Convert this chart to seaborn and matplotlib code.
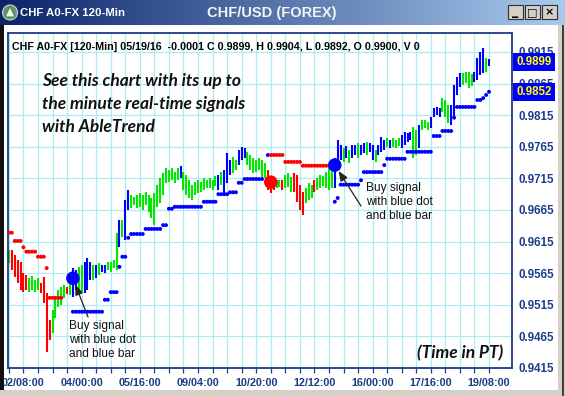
import numpy as np
import pandas as pd
import matplotlib
matplotlib.use("Agg")
import matplotlib.pyplot as plt
import matplotlib.transforms as mtransforms
from matplotlib.patches import Rectangle, Circle, Polygon
import seaborn as sns

# ---------------- data ----------------
bar_colors = ("grrrrrrggg" "grrrrggggg" "rgbbggbbbg" "bgbbggggbg" "bbgggggggg"
              "gggggggggb" "gggggggggg" "ggbgbbbggb" "bbgggggggr" "rrggrgggrr"
              "rrgggrgggg" "ggbbbgbgbb" "gbbgbbgbbb" "gbgggbbbbg" "gbgggbbbbg"
              "ggbbbbgggg" "bbbbgb")

highs = [0.9602, 0.9602, 0.9594, 0.9586, 0.9583, 0.9565, 0.9562, 0.9557, 0.9561, 0.9554,
         0.9557, 0.9549, 0.9559, 0.9534, 0.9491, 0.9507, 0.9526, 0.9538, 0.9543, 0.9546,
         0.9543, 0.9551, 0.9573, 0.9570, 0.9575, 0.9578, 0.9583, 0.9589, 0.9583, 0.9578,
         0.9578, 0.9581, 0.9578, 0.9578, 0.9583, 0.9583, 0.9586, 0.9629, 0.9649, 0.9649,
         0.9681, 0.9697, 0.9689, 0.9686, 0.9689, 0.9692, 0.9689, 0.9693, 0.9689, 0.9684,
         0.9692, 0.9705, 0.9716, 0.9723, 0.9731, 0.9728, 0.9731, 0.9725, 0.9731, 0.9735,
         0.9725, 0.9720, 0.9712, 0.9705, 0.9709, 0.9712, 0.9709, 0.9716, 0.9712, 0.9716,
         0.9712, 0.9719, 0.9720, 0.9725, 0.9728, 0.9755, 0.9744, 0.9749, 0.9744, 0.9760,
         0.9765, 0.9763, 0.9757, 0.9752, 0.9747, 0.9744, 0.9747, 0.9744, 0.9739, 0.9728,
         0.9717, 0.9716, 0.9712, 0.9712, 0.9712, 0.9720, 0.9723, 0.9717, 0.9723, 0.9720,
         0.9705, 0.9693, 0.9700, 0.9708, 0.9705, 0.9712, 0.9716, 0.9720, 0.9719, 0.9725,
         0.9731, 0.9736, 0.9747, 0.9776, 0.9768, 0.9763, 0.9766, 0.9760, 0.9768, 0.9768,
         0.9771, 0.9768, 0.9771, 0.9773, 0.9771, 0.9768, 0.9760, 0.9768, 0.9780, 0.9776,
         0.9779, 0.9776, 0.9779, 0.9776, 0.9779, 0.9784, 0.9788, 0.9787, 0.9788, 0.9796,
         0.9792, 0.9799, 0.9807, 0.9807, 0.9804, 0.9812, 0.9826, 0.9828, 0.9826, 0.9842,
         0.9839, 0.9831, 0.9831, 0.9863, 0.9875, 0.9882, 0.9882, 0.9883, 0.9883, 0.9880,
         0.9883, 0.9905, 0.9915, 0.9921, 0.9905, 0.9904]

lows = [0.9581, 0.9570, 0.9559, 0.9549, 0.9538, 0.9535, 0.9538, 0.9535, 0.9538, 0.9535,
        0.9538, 0.9534, 0.9518, 0.9440, 0.9459, 0.9470, 0.9494, 0.9512, 0.9515, 0.9526,
        0.9532, 0.9530, 0.9527, 0.9538, 0.9538, 0.9535, 0.9534, 0.9538, 0.9554, 0.9554,
        0.9557, 0.9562, 0.9567, 0.9565, 0.9570, 0.9567, 0.9573, 0.9570, 0.9606, 0.9622,
        0.9617, 0.9665, 0.9668, 0.9673, 0.9668, 0.9670, 0.9665, 0.9673, 0.9662, 0.9652,
        0.9641, 0.9670, 0.9676, 0.9689, 0.9708, 0.9709, 0.9712, 0.9708, 0.9712, 0.9716,
        0.9697, 0.9689, 0.9684, 0.9681, 0.9689, 0.9692, 0.9693, 0.9697, 0.9700, 0.9700,
        0.9697, 0.9703, 0.9697, 0.9705, 0.9692, 0.9708, 0.9720, 0.9723, 0.9728, 0.9736,
        0.9744, 0.9747, 0.9736, 0.9728, 0.9723, 0.9725, 0.9728, 0.9717, 0.9716, 0.9697,
        0.9692, 0.9697, 0.9700, 0.9701, 0.9697, 0.9700, 0.9701, 0.9693, 0.9693, 0.9678,
        0.9665, 0.9657, 0.9676, 0.9681, 0.9684, 0.9693, 0.9697, 0.9700, 0.9703, 0.9700,
        0.9697, 0.9700, 0.9700, 0.9736, 0.9744, 0.9741, 0.9747, 0.9739, 0.9747, 0.9752,
        0.9747, 0.9752, 0.9755, 0.9752, 0.9757, 0.9744, 0.9741, 0.9752, 0.9757, 0.9760,
        0.9765, 0.9763, 0.9765, 0.9763, 0.9766, 0.9763, 0.9768, 0.9773, 0.9776, 0.9747,
        0.9752, 0.9763, 0.9792, 0.9795, 0.9792, 0.9795, 0.9812, 0.9815, 0.9812, 0.9820,
        0.9812, 0.9803, 0.9799, 0.9811, 0.9847, 0.9860, 0.9863, 0.9866, 0.9858, 0.9861,
        0.9867, 0.9871, 0.9879, 0.9882, 0.9883, 0.9892]

N = None
stops = [0.9629, 0.9629, 0.9616, 0.9616, 0.9616, 0.9606, 0.9599, 0.9599, 0.9599, 0.9599,
         0.9591, 0.9591, 0.9591, 0.9573, 0.9526, 0.9526, 0.9526, 0.9526, 0.9526, N,
         N, N, 0.9504, 0.9504, 0.9504, 0.9504, 0.9504, 0.9504, 0.9504, 0.9504,
         0.9504, 0.9504, 0.9504, 0.9523, 0.9523, 0.9535, 0.9535, 0.9535, 0.9575, 0.9591,
         0.9591, 0.9621, 0.9627, 0.9627, 0.9627, 0.9627, 0.9627, 0.9635, 0.9635, 0.9635,
         0.9635, 0.9635, 0.9635, 0.9641, 0.9641, 0.9667, 0.9667, 0.9670, 0.9670, 0.9670,
         0.9670, 0.9670, 0.9670, 0.9670, 0.9670, 0.9670, 0.9670, 0.9678, 0.9678, 0.9678,
         0.9678, 0.9678, 0.9690, 0.9690, 0.9690, 0.9690, 0.9693, 0.9693, 0.9693, 0.9708,
         0.9708, 0.9714, 0.9714, 0.9714, 0.9714, 0.9714, 0.9714, 0.9714, N, 0.9752,
         0.9752, 0.9752, 0.9752, 0.9752, 0.9752, 0.9741, 0.9741, 0.9741, 0.9741, 0.9741,
         0.9741, 0.9735, 0.9735, 0.9735, 0.9735, 0.9735, 0.9735, 0.9735, 0.9735, 0.9735,
         0.9735, 0.9735, 0.9678, 0.9684, 0.9705, 0.9705, 0.9705, 0.9705, 0.9705, 0.9705,
         0.9705, 0.9712, 0.9725, 0.9725, 0.9725, 0.9725, 0.9725, 0.9725, 0.9725, 0.9736,
         0.9746, 0.9746, 0.9746, 0.9746, 0.9746, 0.9746, 0.9746, 0.9757, 0.9757, 0.9757,
         0.9757, 0.9757, 0.9757, 0.9757, 0.9757, 0.9757, 0.9782, 0.9782, 0.9782, 0.9790,
         0.9790, 0.9790, 0.9790, 0.9811, 0.9828, 0.9828, 0.9828, 0.9828, 0.9828, 0.9828,
         0.9828, 0.9839, 0.9839, 0.9842, 0.9847, 0.9852]

signal_index = [22, 90, 112]
signal_price = [0.9557, 0.9709, 0.9736]
signal_side = ["b", "r", "b"]

x_tick_index = [5, 25, 45, 65, 85, 105, 125, 145, 165]
x_tick_labels = ["02/08:00", "04/00:00", "05/16:00", "09/04:00", "10/20:00",
                 "12/12:00", "16/00:00", "17/16:00", "19/08:00"]
y_ticks = [0.9415, 0.9465, 0.9515, 0.9565, 0.9615, 0.9665, 0.9715, 0.9765,
           0.9815, 0.9865, 0.9915]
last_close = 0.9899
last_stop = 0.9852

header = ("CHF A0-FX [120-Min] 05/19/16  -0.0001 C 0.9899, H 0.9904, "
          "L 0.9892, O 0.9900, V 0")

# ---------------- styling ----------------
sns.set_theme(style="white")
plt.rcParams['font.family'] = ['Liberation Sans', 'DejaVu Sans']

W, H = 565, 396
def fx(px):
    return px / W
def fy(py):
    return 1 - py / H

palette = {"r": "#ff0000", "g": "#00e800", "b": "#0000ff"}
navy = "#1c3c86"

n = len(highs)
df = pd.DataFrame({"bar": np.arange(n), "high": highs, "low": lows,
                   "color": list(bar_colors)})
# stop-dot side follows the most recent signal (red before first buy signal)
side = []
cur = "r"
for i in range(n):
    if i in signal_index:
        cur = signal_side[signal_index.index(i)]
    side.append(cur)
df["stop"] = pd.array(stops, dtype="Float64").astype(float)
df["side"] = side

fig = plt.figure(figsize=(W / 100, H / 100), dpi=100, facecolor="white")
ax = fig.add_axes([fx(8), fy(368), fx(512) - fx(8), fy(33) - fy(368)])
ax.set_facecolor("white")

# grid
grid_c = "#a9eef0"
for gx in range(0, n + 1, 5):
    ax.axvline(gx, color=grid_c, lw=0.9, zorder=0)
for gy in y_ticks:
    ax.axhline(gy, color=grid_c, lw=0.9, zorder=0)

# OHLC bars
ax.vlines(df["bar"], df["low"], df["high"],
          colors=[palette[c] for c in df["color"]], lw=1.5, zorder=2)

# stop dots
sns.scatterplot(data=df.dropna(subset=["stop"]), x="bar", y="stop", hue="side",
                palette=palette, s=8, linewidth=0, marker="o", legend=False,
                ax=ax, zorder=3)

# signal dots
sig = pd.DataFrame({"bar": signal_index, "price": signal_price, "side": signal_side})
sns.scatterplot(data=sig, x="bar", y="price", hue="side", palette=palette,
                s=95, linewidth=0, legend=False, ax=ax, zorder=4)

ax.set_xlim(-0.3, 172.9)
ax.set_ylim(0.9415, 0.9945)
ax.set_xlabel("")
ax.set_ylabel("")

ax.yaxis.tick_right()
ax.set_yticks(y_ticks)
ax.set_yticklabels([f"{v:.4f}" for v in y_ticks], fontsize=8.3,
                   fontweight="bold", color=navy)
ax.tick_params(axis="y", length=0, pad=5)

ax.set_xticks(x_tick_index)
ax.set_xticklabels(x_tick_labels, fontsize=7.8, fontweight="bold", color=navy)
ax.set_xticks(list(range(0, n + 1, 5)), minor=True)
ax.tick_params(axis="x", which="both", direction="out", length=3.5,
               color=navy, width=0.9, bottom=True, pad=4)
for sp in ax.spines.values():
    sp.set_color(navy)
    sp.set_linewidth(1.3)
    sp.set_visible(True)

# value boxes on the right
trans = mtransforms.blended_transform_factory(fig.transFigure, ax.transData)
for v in [last_close, last_stop]:
    ax.text(fx(534), v, f"{v:.4f}", transform=trans, ha="center", va="center",
            fontsize=8.3, fontweight="bold", color="#ffff00", zorder=10,
            bbox=dict(boxstyle="square,pad=0.25", fc="#0000ff", ec="none"),
            clip_on=False)

# header line
ax.text(fx(12), fy(47), header, transform=fig.transFigure, fontsize=7.7,
        fontweight="bold", color="black", va="center", ha="left")

# promo text
fig.text(fx(42), fy(73), "See this chart with its up to\nthe minute real-time signals\nwith AbleTrend",
         family=["Lato", "DejaVu Sans"], fontsize=12.5, fontweight="bold",
         style="italic", color="#111111", va="top", ha="left", linespacing=1.55)
fig.text(fx(503), fy(353), "(Time in PT)", family=["Lato", "DejaVu Sans"],
         fontsize=12.5, fontweight="bold", style="italic", color="#111111",
         va="center", ha="right")

# buy signal notes
note = "Buy signal\nwith blue dot\nand blue bar"
fig.text(fx(69), fy(320), note, fontsize=8.6, color="#111111", va="top",
         ha="left", linespacing=1.2)
fig.text(fx(366), fy(182), note, fontsize=8.6, color="#111111", va="top",
         ha="left", linespacing=1.2)
ax.annotate("", xy=(signal_index[0], signal_price[0]), xytext=(88, H - 317),
            textcoords="figure pixels",
            arrowprops=dict(arrowstyle="-|>,head_length=0.5,head_width=0.2",
                            color="#222222", lw=0.9, shrinkA=0, shrinkB=5))
ax.annotate("", xy=(signal_index[2], signal_price[2]), xytext=(361, H - 206),
            textcoords="figure pixels",
            arrowprops=dict(arrowstyle="-|>,head_length=0.5,head_width=0.2",
                            color="#222222", lw=0.9, shrinkA=0, shrinkB=5))

# ---------------- window chrome ----------------
tb = fig.add_axes([0, fy(25), 1, fy(0) - fy(25)])
grad = np.linspace(0, 1, 256)
c0 = np.array([10, 36, 106]) / 255
c1 = np.array([168, 202, 238]) / 255
img = (c0[None, :] * (1 - grad[:, None]) + c1[None, :] * grad[:, None])[None, :, :]
tb.imshow(img, aspect="auto", extent=[0, W, 25, 0])
tb.set_xlim(0, W)
tb.set_ylim(25, 0)
tb.axis("off")
tb.add_patch(Circle((10, 12.5), 7.5, fc="#7a8a80", ec="#d0d0d0", lw=0.8))
tb.add_patch(Polygon([[10, 6.5], [5, 17], [15, 17]], closed=True, fc="#e8ffe8",
                     ec="#2a9a3a", lw=0.8))
tb.text(20, 13, "CHF A0-FX 120-Min", color="white", fontsize=8.2,
        fontweight="bold", va="center", ha="left")
tb.text(272, 12.5, "CHF/USD (FOREX)", color="#f4f4f4", fontsize=10.5,
        fontweight="bold", va="center", ha="center")
for bx, glyph in [(508, "_"), (525, "\u25a1"), (542, "\u00d7")]:
    tb.add_patch(Rectangle((bx, 5), 15, 14, fc="#d4d0c8", ec="#303030", lw=0.8))
    tb.text(bx + 7.5, 12, glyph, color="black", fontsize=8 if glyph != "_" else 9,
            fontweight="bold", ha="center", va="center",
            family=["DejaVu Sans"])

# window borders
fig.patches.append(Rectangle((0, 0), fx(3.5), fy(25), transform=fig.transFigure,
                             fc="#101010", ec="none", zorder=5))
fig.patches.append(Rectangle((fx(558), 0), fx(7), fy(25), transform=fig.transFigure,
                             fc="#d4d0c8", ec="none", zorder=5))
fig.patches.append(Rectangle((fx(562), 0), fx(2), fy(25), transform=fig.transFigure,
                             fc="#404040", ec="none", zorder=6))
fig.patches.append(Rectangle((0, 0), 1, (H - 390) / H, transform=fig.transFigure,
                             fc="#d4d0c8", ec="none", zorder=5))

fig.savefig("out.png", dpi=100, facecolor="white")
